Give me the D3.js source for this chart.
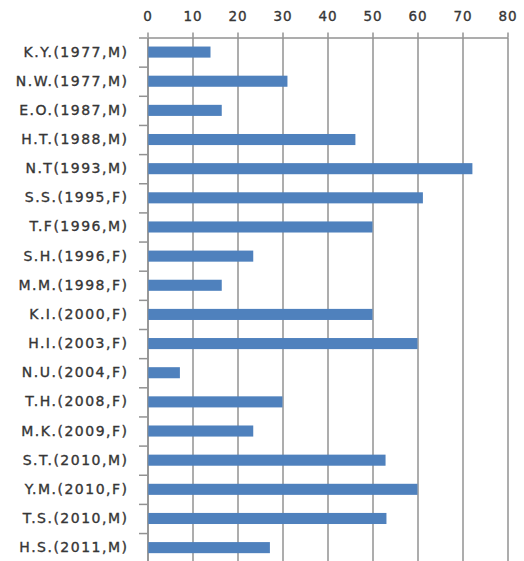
<!DOCTYPE html>
<html>
<head>
<meta charset="utf-8">
<script src="https://cdn.jsdelivr.net/npm/d3@7"></script>
<style>
  body { margin: 0; background: #fff; }
  .tick text { fill: #363636; stroke: #363636; stroke-width: 0.35; font-family: "DejaVu Sans", sans-serif; }
</style>
</head>
<body>
<svg id="chart" width="524" height="561"></svg>
<script>
var names = ["K.Y.(1977,M)", "N.W.(1977,M)", "E.O.(1987,M)", "H.T.(1988,M)", "N.T(1993,M)",
  "S.S.(1995,F)", "T.F(1996,M)", "S.H.(1996,F)", "M.M.(1998,F)", "K.I.(2000,F)",
  "H.I.(2003,F)", "N.U.(2004,F)", "T.H.(2008,F)", "M.K.(2009,F)", "S.T.(2010,M)",
  "Y.M.(2010,F)", "T.S.(2010,M)", "H.S.(2011,M)"];
var values = [14, 31.1, 16.5, 46.2, 72.2, 61.2, 50, 23.5, 16.5, 50,
  60, 7.2, 30, 23.5, 52.9, 60, 53.1, 27.2];
var xTicks = [0, 10, 20, 30, 40, 50, 60, 70, 80];

var svg = d3.select("#chart"),
    plotLeft = 147.5, plotRight = 507.5, plotTop = 37.5, plotBottom = 562.2;

var x = d3.scaleLinear().domain([0, 80]).range([plotLeft, plotRight]);
var y = d3.scaleBand().domain(names).range([plotTop, plotBottom])
    .paddingInner(0.62).paddingOuter(0.31);
var yEdge = d3.scaleLinear().domain([0, names.length]).range([plotTop, plotBottom]);

// vertical gridlines
svg.append("g")
  .attr("transform", "translate(0," + plotTop + ")")
  .call(d3.axisTop(x).tickValues(xTicks).tickSize(-(plotBottom - plotTop)).tickFormat(""))
  .call(function(g) { g.select(".domain").remove(); })
  .selectAll("line").attr("stroke", "#929292").attr("stroke-width", 1.5);

// top axis with labels
svg.append("g")
  .attr("transform", "translate(0," + plotTop + ")")
  .call(d3.axisTop(x).tickValues(xTicks).tickSize(5).tickSizeOuter(0).tickPadding(12))
  .call(function(g) {
    g.select(".domain").attr("stroke", "#929292").attr("stroke-width", 1.5);
    g.selectAll("line").attr("stroke", "#929292").attr("stroke-width", 1.5);
    g.selectAll("text").attr("font-size", 13.5).attr("letter-spacing", 1);
  });

// left axis: band boundary ticks
svg.append("g")
  .attr("transform", "translate(" + plotLeft + ",0)")
  .call(d3.axisLeft(yEdge).tickValues(d3.range(names.length + 1)).tickSize(8.5).tickSizeOuter(0).tickFormat(""))
  .call(function(g) {
    g.select(".domain").attr("stroke", "#929292").attr("stroke-width", 1.5);
    g.selectAll("line").attr("stroke", "#929292").attr("stroke-width", 1.5);
  });

// category labels
svg.append("g")
  .attr("transform", "translate(" + plotLeft + ",0)")
  .call(d3.axisLeft(y).tickSize(0).tickPadding(19))
  .call(function(g) {
    g.select(".domain").remove();
    g.selectAll("text").attr("font-size", 14).attr("letter-spacing", 1.5);
  });

// bars
svg.append("g").selectAll("rect")
  .data(values)
  .enter().append("rect")
    .attr("x", x(0) + 0.75)
    .attr("y", function(d, i) { return y(names[i]); })
    .attr("width", function(d) { return x(d) - x(0) - 0.75; })
    .attr("height", y.bandwidth())
    .attr("fill", "#4f81bd");
</script>
</body>
</html>
